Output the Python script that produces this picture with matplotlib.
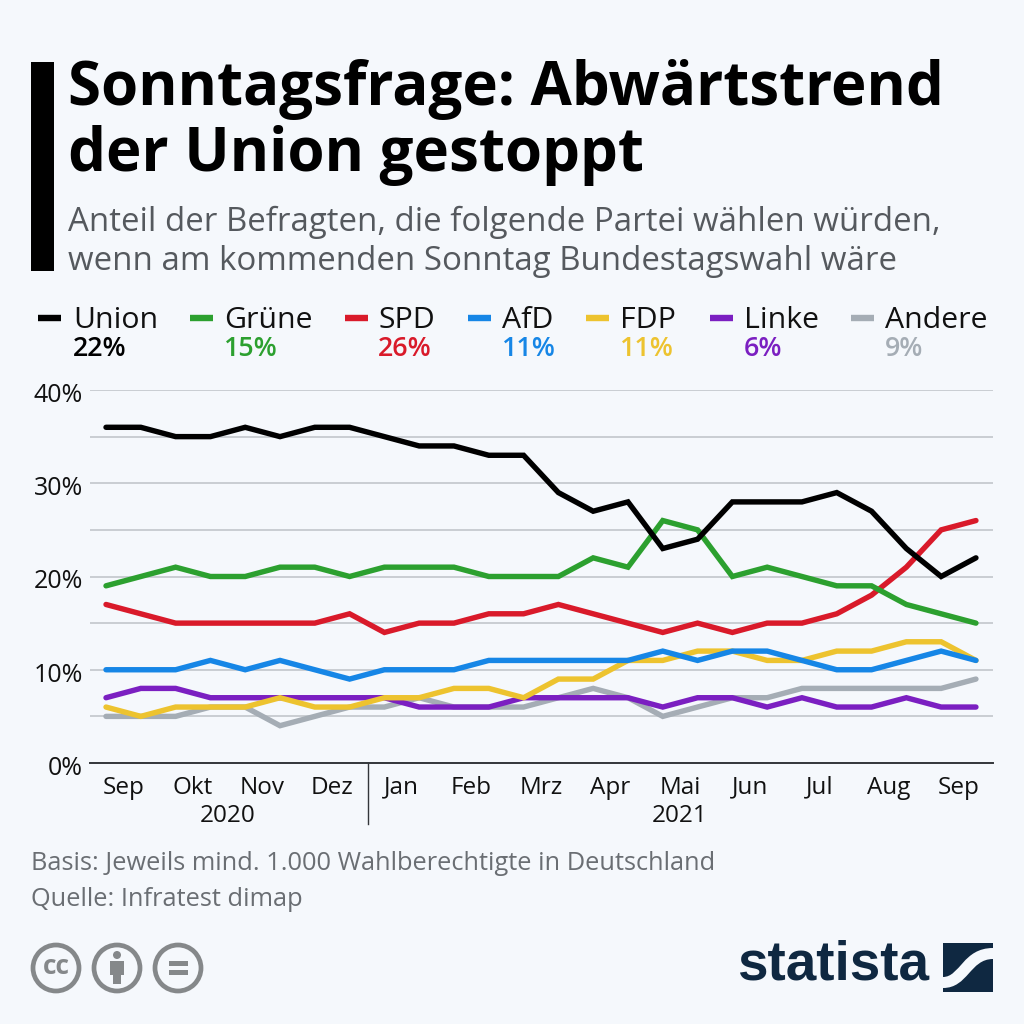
import matplotlib
matplotlib.use("Agg")
import matplotlib.pyplot as plt
from matplotlib.patches import Rectangle, Circle, PathPatch
from matplotlib.path import Path
from matplotlib.transforms import ScaledTranslation

# -----------------------------
# Data
# -----------------------------
union = [36, 36, 35, 35, 36, 35, 36, 36, 35, 34, 34, 33, 33, 29, 27, 28, 23, 24, 28, 28, 28, 29, 27, 23, 20, 22]
gruene = [19, 20, 21, 20, 20, 21, 21, 20, 21, 21, 21, 20, 20, 20, 22, 21, 26, 25, 20, 21, 20, 19, 19, 17, 16, 15]
spd = [17, 16, 15, 15, 15, 15, 15, 16, 14, 15, 15, 16, 16, 17, 16, 15, 14, 15, 14, 15, 15, 16, 18, 21, 25, 26]
afd = [10, 10, 10, 11, 10, 11, 10, 9, 10, 10, 10, 11, 11, 11, 11, 11, 12, 11, 12, 12, 11, 10, 10, 11, 12, 11]
fdp = [6, 5, 6, 6, 6, 7, 6, 6, 7, 7, 8, 8, 7, 9, 9, 11, 11, 12, 12, 11, 11, 12, 12, 13, 13, 11]
linke = [7, 8, 8, 7, 7, 7, 7, 7, 7, 6, 6, 6, 7, 7, 7, 7, 6, 7, 7, 6, 7, 6, 6, 7, 6, 6]
andere = [5, 5, 5, 6, 6, 4, 5, 6, 6, 7, 6, 6, 6, 7, 8, 7, 5, 6, 7, 7, 8, 8, 8, 8, 8, 9]

parties = ["Union", "Grüne", "SPD", "AfD", "FDP", "Linke", "Andere"]
latest = ["22%", "15%", "26%", "11%", "11%", "6%", "9%"]
months = ["Sep", "Okt", "Nov", "Dez", "Jan", "Feb", "Mrz", "Apr", "Mai", "Jun", "Jul", "Aug", "Sep"]

colors = {
    "Union": "#000000",
    "Grüne": "#2CA02F",
    "SPD": "#D91A2A",
    "AfD": "#1686E6",
    "FDP": "#EDC32F",
    "Linke": "#7B1FC1",
    "Andere": "#A5ADB5",
}
BG = "#F5F8FC"
NAVY = "#0F2841"
GREY_TEXT = "#55595E"

plt.rcParams["font.family"] = ["Open Sans", "DejaVu Sans"]

fig = plt.figure(figsize=(10.24, 10.24), dpi=100, facecolor=BG)

# overlay in pixel coordinates for header, legend and footer
page = fig.add_axes([0, 0, 1, 1])
page.set_xlim(0, 1024)
page.set_ylim(1024, 0)
page.axis("off")

# -----------------------------
# Chart
# -----------------------------
ax = fig.add_axes([90 / 1024, (1024 - 763) / 1024, 903 / 1024, 373 / 1024])
ax.set_facecolor("none")
series = [("Andere", andere), ("Linke", linke), ("FDP", fdp), ("AfD", afd), ("SPD", spd), ("Grüne", gruene), ("Union", union)]
for name, values in series:
    ax.plot(range(len(values)), values, color=colors[name], lw=3.9, solid_joinstyle="miter",
            solid_capstyle="round", zorder=3, clip_on=False)

ax.set_xlim(-0.46, 25.49)
ax.set_ylim(0, 40)
ax.set_yticks(range(0, 41, 5))
ax.set_yticklabels(["0%", "", "10%", "", "20%", "", "30%", "", "40%"], fontsize=18, color="#111111")
ax.set_xticks([0.5 + 2 * i for i in range(len(months))])
ax.set_xticklabels(months, fontsize=17.5, color="#111111")
ax.tick_params(axis="x", length=0, pad=9)
ax.tick_params(axis="y", length=0, pad=5)
# tick labels sit a little below their gridlines
nudge = ScaledTranslation(0, -1.7 / 72, fig.dpi_scale_trans)
for label in ax.get_yticklabels():
    label.set_transform(label.get_transform() + nudge)
ax.grid(axis="y", color="#BEC2C7", lw=1.1, zorder=1)
ax.grid(axis="x", visible=False)
for side in ["top", "right", "left"]:
    ax.spines[side].set_visible(False)
ax.spines["bottom"].set_color("#33363A")
ax.spines["bottom"].set_linewidth(1.4)

# year separator and year labels
page.plot([368, 368], [763, 824], color="#33363A", lw=1)
page.text(228, 816, "2020", fontsize=17.5, color="#111111", ha="center", va="center")
page.text(680, 816, "2021", fontsize=17.5, color="#111111", ha="center", va="center")

# -----------------------------
# Header
# -----------------------------
page.add_patch(Rectangle((31, 62), 23, 209, color="#000000", lw=0))
page.text(68, 89, "Sonntagsfrage: Abwärtstrend", fontsize=43.2, fontweight="bold", color="#000000", va="center")
page.text(68, 155, "der Union gestoppt", fontsize=43.2, fontweight="bold", color="#000000", va="center")
page.text(68, 222, "Anteil der Befragten, die folgende Partei wählen würden,", fontsize=23.75, color=GREY_TEXT, va="center")
page.text(68, 261, "wenn am kommenden Sonntag Bundestagswahl wäre", fontsize=23.75, color=GREY_TEXT, va="center")

# -----------------------------
# Legend
# -----------------------------
line_x = [38, 190, 345, 468, 586, 710, 851]
label_x = [73, 224, 378, 502, 620, 744, 885]
for name, value, lx, tx in zip(parties, latest, line_x, label_x):
    page.plot([lx, lx + 23], [318, 318], color=colors[name], lw=4.6, solid_capstyle="butt")
    page.text(tx, 320, name, fontsize=21.8, color="#111111", va="center")
    page.text(tx, 349, value, fontsize=19.3, fontweight="semibold", color=colors[name], ha="left", va="center")

# -----------------------------
# Footer
# -----------------------------
page.text(31, 864, "Basis: Jeweils mind. 1.000 Wahlberechtigte in Deutschland", fontsize=18.25, color="#6A6E73", va="center")
page.text(31, 899, "Quelle: Infratest dimap", fontsize=18.25, color="#6A6E73", va="center")

# licence icons
ICON = "#85888A"
for cx in [56, 117, 178]:
    page.add_patch(Circle((cx, 968), 23, fc="none", ec=ICON, lw=3.4))
page.text(56, 967, "cc", fontsize=19, fontweight="bold", color=ICON, ha="center", va="center")
page.add_patch(Circle((117, 955), 4, fc=ICON, ec="none"))
page.add_patch(Rectangle((110, 961), 14, 14, fc=ICON, ec="none"))
page.add_patch(Rectangle((113, 975), 8, 9, fc=ICON, ec="none"))
page.add_patch(Rectangle((169, 961), 19, 5, fc=ICON, ec="none"))
page.add_patch(Rectangle((169, 970), 19, 5, fc=ICON, ec="none"))

# statista logo
page.text(833, 966, "statista", fontsize=39.5, fontweight="bold", color=NAVY, ha="center", va="center",
          family="Liberation Sans")
page.add_patch(Rectangle((943, 943), 50, 49, fc=NAVY, ec="none"))
swoosh = Path(
    [(943, 977), (960, 977), (963, 948), (993, 948), (993, 959), (970, 959), (968, 988), (943, 988), (943, 977)],
    [Path.MOVETO, Path.CURVE4, Path.CURVE4, Path.CURVE4, Path.LINETO, Path.CURVE4, Path.CURVE4, Path.CURVE4, Path.CLOSEPOLY],
)
page.add_patch(PathPatch(swoosh, fc=BG, ec="none"))

fig.savefig("out.png", dpi=100, facecolor=BG)
